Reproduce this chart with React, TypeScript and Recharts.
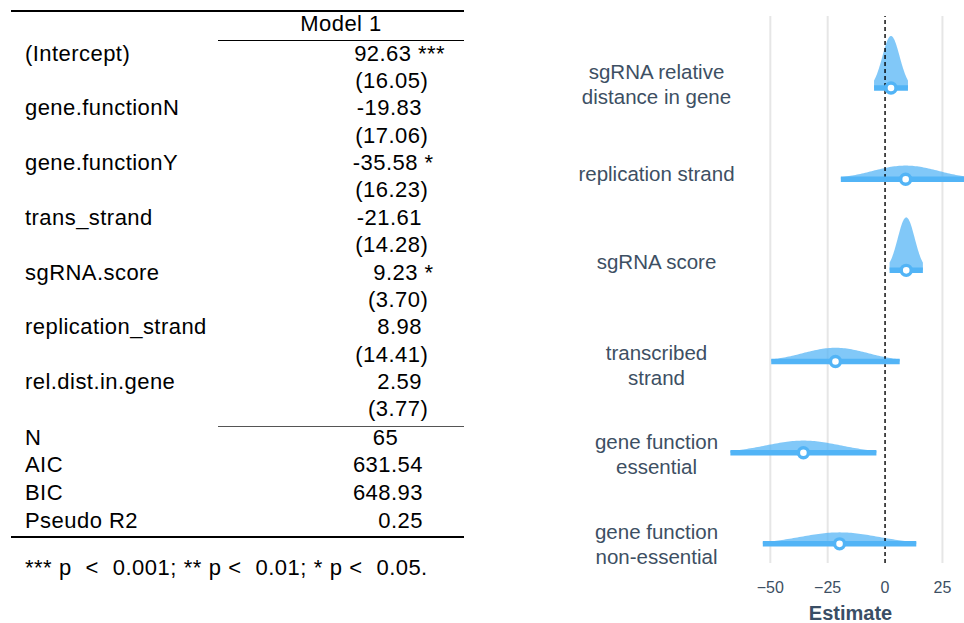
import React from 'react';
import {
  ComposedChart,
  Area,
  Line,
  Scatter,
  XAxis,
  YAxis,
  CartesianGrid,
  ReferenceLine,
} from 'recharts';

// Regression table (Model 1)
const coefNames = [
  '(Intercept)',
  'gene.functionN',
  'gene.functionY',
  'trans_strand',
  'sgRNA.score',
  'replication_strand',
  'rel.dist.in.gene',
];
const coefEstimates = ['92.63', '-19.83', '-35.58', '-21.61', '9.23', '8.98', '2.59'];
const coefStars = ['***', '', '*', '', '*', '', ''];
const coefErrors = ['16.05', '17.06', '16.23', '14.28', '3.70', '14.41', '3.77'];
const gofNames = ['N', 'AIC', 'BIC', 'Pseudo R2'];
const gofValues = ['65', '631.54', '648.93', '0.25'];
const footnote = '*** p  <  0.001; ** p <  0.01; * p <  0.05.';

// Coefficient plot, bottom row first
const plotTerms = [
  'gene.functionN',
  'gene.functionY',
  'trans_strand',
  'sgRNA.score',
  'replication_strand',
  'rel.dist.in.gene',
];
const plotLabels = [
  ['gene function', 'non-essential'],
  ['gene function', 'essential'],
  ['transcribed', 'strand'],
  ['sgRNA score'],
  ['replication strand'],
  ['sgRNA relative', 'distance in gene'],
];
const xTicks = [-50, -25, 0, 25];
const gridValues = [-50, -25, 25];

const BLUE = '#52b4f6';
const TEXT = '#3d4f63';
const FONT = '"Liberation Sans", Arial, sans-serif';
const Z95 = 1.96;
const SLAB_SCALE = 5.39;
const SLAB_STEPS = 80;

// small per-row tweak of the axis label baseline (px)
const labelNudge = [8, 9, 10.5, -1.7, 2, 3.5];

const normalPdf = (x: number, mu: number, sd: number) =>
  Math.exp(-0.5 * ((x - mu) / sd) ** 2) / (sd * Math.sqrt(2 * Math.PI));

// half-eye pieces per term: slab over the 95% interval, interval bar, point estimate
const rows = plotTerms.map((term, row) => {
  const k = coefNames.indexOf(term);
  const est = Number(coefEstimates[k]);
  const se = Number(coefErrors[k]);
  const lo = est - Z95 * se;
  const hi = est + Z95 * se;
  const slab = Array.from({ length: SLAB_STEPS + 1 }, (_, s) => {
    const x = lo + ((hi - lo) * s) / SLAB_STEPS;
    return { x, band: [row, row + SLAB_SCALE * normalPdf(x, est, se)] };
  });
  return {
    term,
    slab,
    interval: [
      { x: lo, y: row },
      { x: hi, y: row },
    ],
    point: [{ x: est, y: row }],
  };
});

const fmtTick = (v: number) => (v < 0 ? `\u2212${Math.abs(v)}` : `${v}`);

const TermTick = (props: any) => {
  const { y, payload } = props;
  const i = payload.value as number;
  const lines = plotLabels[i] || [];
  const cy = y + labelNudge[i];
  return (
    <text textAnchor="middle" fill={TEXT} fontSize={20.5} fontFamily={FONT}>
      {lines.map((l, j) => (
        <tspan key={j} x={96.5} y={cy + (j - (lines.length - 1) / 2) * 25}>
          {l}
        </tspan>
      ))}
    </text>
  );
};

const EstimateTick = (props: any) => {
  const { x, payload } = props;
  return (
    <text
      x={x}
      y={587}
      textAnchor="middle"
      dominantBaseline="central"
      fill={TEXT}
      fontSize={16}
      fontFamily={FONT}
    >
      {fmtTick(payload.value)}
    </text>
  );
};

const PointShape = (props: any) => (
  <circle cx={props.cx} cy={props.cy} r={5} fill="#fff" stroke={BLUE} strokeWidth={3.4} />
);

// number split at the decimal point so the column lines up on it
const Num = ({ text, x, cy, stars = '' }: { text: string; x: number; cy: number; stars?: string }) => {
  const dot = text.indexOf('.');
  const left = dot >= 0 ? text.slice(0, dot) : text;
  const right = dot >= 0 ? text.slice(dot) : '';
  return (
    <div style={{ position: 'absolute', left: x, top: cy - 14, height: 28, lineHeight: '28px' }}>
      <span style={{ position: 'absolute', right: 0, whiteSpace: 'pre' }}>{left}</span>
      <span style={{ position: 'absolute', left: 0, whiteSpace: 'pre' }}>
        {right}
        {stars ? ` ${stars}` : ''}
      </span>
    </div>
  );
};

const Cell = ({
  text,
  x,
  cy,
  center = false,
  style,
}: {
  text: string;
  x: number;
  cy: number;
  center?: boolean;
  style?: React.CSSProperties;
}) => (
  <div
    style={{
      position: 'absolute',
      left: center ? x - 100 : x,
      width: center ? 200 : undefined,
      textAlign: center ? 'center' : 'left',
      top: cy - 14,
      height: 28,
      lineHeight: '28px',
      whiteSpace: 'pre',
      ...style,
    }}
  >
    {text}
  </div>
);

const Rule = ({ x1, x2, y, w, color = '#000' }: { x1: number; x2: number; y: number; w: number; color?: string }) => (
  <div style={{ position: 'absolute', left: x1, width: x2 - x1, top: y - w / 2, height: w, background: color }} />
);

const RegressionTable = () => {
  const starShift = (s: string) => (s === '***' ? 10.5 : s === '*' ? 4 : 0);
  return (
    <div
      style={{
        position: 'absolute',
        left: 0,
        top: 0,
        width: 470,
        height: 623,
        fontFamily: FONT,
        fontSize: 22,
        letterSpacing: 0.45,
        color: '#000',
      }}
    >
      <Rule x1={11} x2={464} y={11} w={1.7} />
      <Cell text="Model 1" x={341} cy={24} center />
      <Rule x1={218} x2={464} y={40.5} w={1} />
      {coefNames.map((name, i) => {
        const cy = 53.5 + 54.75 * i;
        return (
          <React.Fragment key={name}>
            <Cell text={name} x={25} cy={cy} />
            <Num text={coefEstimates[i]} stars={coefStars[i]} x={390 - starShift(coefStars[i])} cy={cy} />
            <Num text={`(${coefErrors[i]})`} x={388.5} cy={cy + 27.4} />
          </React.Fragment>
        );
      })}
      <Rule x1={218} x2={464} y={426} w={1} color="#555" />
      {gofNames.map((name, j) => {
        const cy = 437.8 + 27.6 * j;
        const v = gofValues[j];
        return (
          <React.Fragment key={name}>
            <Cell text={name} x={25} cy={cy} />
            {v.includes('.') ? <Num text={v} x={391} cy={cy} /> : <Cell text={v} x={385.5} cy={cy} center />}
          </React.Fragment>
        );
      })}
      <Rule x1={11} x2={464} y={537} w={1.7} />
      <Cell text={footnote} x={25} cy={567.5} style={{ wordSpacing: 0.4 }} />
    </div>
  );
};

const CoefPlot = () => (
  <div style={{ position: 'absolute', left: 560, top: 0 }}>
    <ComposedChart width={404} height={623} margin={{ top: 16, right: 0, bottom: 0, left: 0 }}>
      <CartesianGrid horizontal={false} verticalValues={gridValues} stroke="#e6e6e6" strokeWidth={2} />
      <XAxis
        type="number"
        dataKey="x"
        domain={[-68, 34.4]}
        allowDataOverflow
        ticks={xTicks}
        tick={<EstimateTick />}
        tickLine={false}
        axisLine={false}
        height={60}
        label={{
          content: (p: any) => (
            <text
              x={p.viewBox.x + p.viewBox.width / 2 + 4}
              y={p.viewBox.y + p.viewBox.height - 3}
              textAnchor="middle"
              fill="#3a4e65"
              fontSize={20}
              fontWeight={700}
              fontFamily={FONT}
            >
              Estimate
            </text>
          ),
        }}
      />
      <YAxis
        type="number"
        dataKey="y"
        domain={[-0.21, 5.79]}
        allowDataOverflow
        ticks={[0, 1, 2, 3, 4, 5]}
        tick={<TermTick />}
        tickLine={false}
        axisLine={false}
        width={169}
      />
      {rows.map((r) => (
        <Area
          key={`slab-${r.term}`}
          data={r.slab}
          dataKey="band"
          type="linear"
          stroke="none"
          fill={BLUE}
          fillOpacity={0.73}
          dot={false}
          activeDot={false}
          isAnimationActive={false}
        />
      ))}
      <ReferenceLine x={0} stroke="#000" strokeWidth={1.4} strokeDasharray="4 3" />
      {rows.map((r) => (
        <Line
          key={`ci-${r.term}`}
          data={r.interval}
          dataKey="y"
          stroke={BLUE}
          strokeWidth={5.5}
          dot={false}
          activeDot={false}
          isAnimationActive={false}
        />
      ))}
      {rows.map((r) => (
        <Scatter
          key={`pt-${r.term}`}
          data={r.point}
          dataKey="y"
          shape={<PointShape />}
          isAnimationActive={false}
        />
      ))}
    </ComposedChart>
  </div>
);

export default function App() {
  return (
    <div
      style={{
        position: 'absolute',
        left: 0,
        top: 0,
        width: 964,
        height: 623,
        background: '#fff',
        overflow: 'hidden',
      }}
    >
      <RegressionTable />
      <CoefPlot />
    </div>
  );
}
